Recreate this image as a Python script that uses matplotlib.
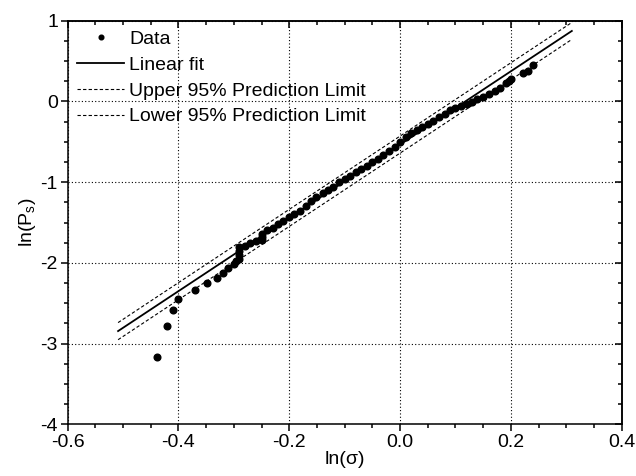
import numpy as np
import matplotlib
matplotlib.use('Agg')
import matplotlib.pyplot as plt
from matplotlib.ticker import MultipleLocator

plt.rcParams['font.family'] = ['Liberation Sans', 'DejaVu Sans']
plt.rcParams['mathtext.fontset'] = 'custom'
plt.rcParams['mathtext.rm'] = 'Liberation Sans'
plt.rcParams['mathtext.it'] = 'Liberation Sans'
plt.rcParams['axes.unicode_minus'] = False

# measured points ln(sigma), ln(Ps)
ln_sigma = [-0.439, -0.420, -0.410, -0.400, -0.370, -0.349, -0.330, -0.319, -0.310,
            -0.300, -0.296, -0.291, -0.291, -0.291, -0.291, -0.280, -0.270, -0.260,
            -0.250, -0.250, -0.250, -0.241, -0.230, -0.220, -0.211, -0.200, -0.191,
            -0.181, -0.170, -0.160, -0.151, -0.140, -0.130, -0.121, -0.110, -0.100,
            -0.090, -0.080, -0.071, -0.060, -0.050, -0.040, -0.030, -0.020, -0.010,
            0.000, 0.010, 0.020, 0.030, 0.040, 0.050, 0.060, 0.071, 0.081, 0.091,
            0.100, 0.110, 0.120, 0.129, 0.139, 0.150, 0.160, 0.171, 0.180, 0.191,
            0.196, 0.201, 0.221, 0.230, 0.240]
ln_ps = [-3.163, -2.783, -2.585, -2.445, -2.335, -2.254, -2.185, -2.123, -2.065,
         -2.019, -1.980, -1.950, -1.900, -1.850, -1.800, -1.788, -1.760, -1.730,
         -1.720, -1.680, -1.640, -1.594, -1.565, -1.523, -1.482, -1.436, -1.395,
         -1.358, -1.296, -1.230, -1.188, -1.139, -1.098, -1.057, -1.003, -0.962,
         -0.921, -0.879, -0.838, -0.797, -0.751, -0.710, -0.664, -0.611, -0.561,
         -0.500, -0.437, -0.396, -0.354, -0.321, -0.280, -0.243, -0.197, -0.156,
         -0.107, -0.086, -0.057, -0.032, -0.004, 0.026, 0.058, 0.092, 0.133,
         0.170, 0.224, 0.250, 0.274, 0.348, 0.380, 0.451]

# fit line and prediction limits (end points)
fit_x = [-0.509, 0.31]
fit_y = [-2.845, 0.873]
upper_y = [-2.740, 0.978]
lower_y = [-2.952, 0.768]

fig = plt.figure(figsize=(6.36, 4.76), dpi=100)
ax = fig.add_axes([0.1064, 0.1086, 0.8711, 0.8479])

ax.plot(ln_sigma, ln_ps, 'o', color='black', markersize=4.8, label='Data', zorder=3)
ax.plot(fit_x, fit_y, '-', color='black', lw=1.3, label='Linear fit')
ax.plot(fit_x, upper_y, color='black', lw=0.8, dashes=(3, 2), label='Upper 95% Prediction Limit')
ax.plot(fit_x, lower_y, color='black', lw=0.8, dashes=(3, 2), label='Lower 95% Prediction Limit')

ax.set_xlim(-0.6, 0.4)
ax.set_ylim(-4, 1)
ax.xaxis.set_major_locator(MultipleLocator(0.2))
ax.xaxis.set_minor_locator(MultipleLocator(0.05))
ax.yaxis.set_major_locator(MultipleLocator(1))
ax.yaxis.set_minor_locator(MultipleLocator(0.25))
ax.set_xticklabels([f'{v:.1f}' for v in ax.get_xticks()])
ax.tick_params(which='major', direction='out', length=5, width=1.1, labelsize=14, pad=2)
ax.tick_params(which='minor', direction='out', length=3, width=1.1)
ax.grid(which='major', linestyle=(0, (1, 2)), linewidth=0.8, color='black')
for s in ax.spines.values():
    s.set_linewidth(1.1)

# inward ticks on top and right
top = ax.secondary_xaxis('top')
top.xaxis.set_major_locator(MultipleLocator(0.2))
top.xaxis.set_minor_locator(MultipleLocator(0.05))
top.tick_params(which='major', direction='in', length=5, width=1.1, labeltop=False)
top.tick_params(which='minor', direction='in', length=3, width=1.1)
right = ax.secondary_yaxis('right')
right.yaxis.set_major_locator(MultipleLocator(1))
right.yaxis.set_minor_locator(MultipleLocator(0.25))
right.tick_params(which='major', direction='in', length=5, width=1.1, labelright=False)
right.tick_params(which='minor', direction='in', length=3, width=1.1)
top.spines['top'].set_linewidth(1.1)
right.spines['right'].set_linewidth(1.1)

ax.set_xlabel('ln(σ)', fontsize=14, labelpad=0)
ax.set_ylabel('ln(P$_\\mathregular{s}$)', fontsize=14, labelpad=2)

ax.legend(loc='upper left', bbox_to_anchor=(0.0, 1.0), frameon=False, fontsize=14,
          handlelength=2.4, handletextpad=0.26, labelspacing=0.42, borderaxespad=0.1,
          markerscale=0.7)

fig.savefig('out.png', dpi=100)
